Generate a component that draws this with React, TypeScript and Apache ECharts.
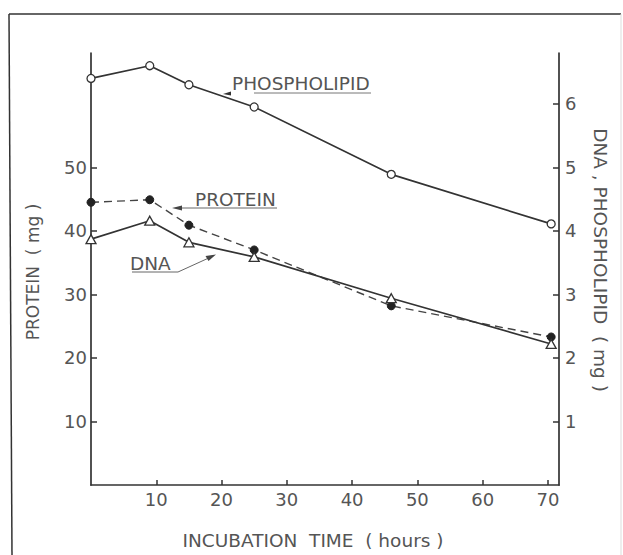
import React, { useEffect, useRef } from "react";
import * as echarts from "echarts";

const hours = [0, 9, 15, 25, 46, 70.5];
const phospholipid = [6.4, 6.6, 6.3, 5.95, 4.89, 4.11];
const protein = [44.5, 44.9, 40.9, 37.0, 28.2, 23.3];
const dna = [3.87, 4.16, 3.82, 3.59, 2.94, 2.22];

const xTicks = [10, 20, 30, 40, 50, 60, 70];
const leftTicks = [10, 20, 30, 40, 50];
const rightTicks = [1, 2, 3, 4, 5, 6];

const FONT = "DejaVu Sans";
const INK = "#333";
const TXT = "#555";

export default function App() {
  const ref = useRef<HTMLDivElement>(null);
  useEffect(() => {
    if (!ref.current) return;
    const chart = echarts.init(ref.current, null, { renderer: "svg" });
    const axisLine = { show: true, onZero: false, lineStyle: { color: INK, width: 1.7 } };
    const labelStyle = { color: TXT, fontFamily: FONT, fontSize: 18 };
    const txt = (s: string, x: number, y: number, size: number, align = "left", rotation = 0) => ({
      type: "text", x, y, rotation,
      style: { text: s, fill: TXT, font: `${size}px "${FONT}"`, textAlign: align, textVerticalAlign: "middle" },
    });
    chart.setOption({
      animation: false,
      backgroundColor: "#fff",
      grid: { left: 91, right: 64, top: 53, bottom: 70, containLabel: false },
      xAxis: {
        type: "value",
        min: 0,
        max: 71.7,
        interval: 10,
        axisLine,
        axisTick: { show: true, inside: true, length: 5, customValues: xTicks, lineStyle: { color: INK, width: 1.5 } },
        axisLabel: { ...labelStyle, margin: 5, customValues: xTicks },
        splitLine: { show: false },
      },
      yAxis: [
        {
          type: "value",
          position: "left",
          min: 0,
          max: 68,
          interval: 10,
          axisLine,
          axisTick: { show: true, inside: true, length: 6, customValues: leftTicks, lineStyle: { color: INK, width: 1.5 } },
          axisLabel: { ...labelStyle, margin: 4, customValues: leftTicks },
          splitLine: { show: false },
        },
        {
          type: "value",
          position: "right",
          min: 0,
          max: 6.8,
          interval: 1,
          axisLine,
          axisTick: { show: true, inside: true, length: 6, customValues: rightTicks, lineStyle: { color: INK, width: 1.5 } },
          axisLabel: { ...labelStyle, margin: 6, customValues: rightTicks },
          splitLine: { show: false },
        },
      ],
      series: [
        {
          name: "PHOSPHOLIPID",
          type: "line",
          yAxisIndex: 1,
          data: hours.map((h, i) => [h, phospholipid[i]]),
          symbol: "circle",
          symbolSize: 8,
          itemStyle: { color: "#fff", borderColor: INK, borderWidth: 1.3 },
          lineStyle: { color: INK, width: 1.7 },
          z: 3,
        },
        {
          name: "PROTEIN",
          type: "line",
          yAxisIndex: 0,
          data: hours.map((h, i) => [h, protein[i]]),
          symbol: "circle",
          symbolSize: 8,
          itemStyle: { color: "#222", borderColor: "#222", borderWidth: 1 },
          lineStyle: { color: "#444", width: 1.4, type: [8, 5] },
          z: 3,
        },
        {
          name: "DNA",
          type: "line",
          yAxisIndex: 1,
          data: hours.map((h, i) => [h, dna[i]]),
          symbol: "triangle",
          symbolSize: [10, 9],
          itemStyle: { color: "#fff", borderColor: INK, borderWidth: 1.3 },
          lineStyle: { color: INK, width: 1.7 },
          z: 4,
        },
      ],
      graphic: [
        { type: "line", shape: { x1: 9, y1: 14, x2: 621, y2: 14 }, style: { stroke: INK, lineWidth: 1.5 } },
        { type: "line", shape: { x1: 9, y1: 14, x2: 12, y2: 555 }, style: { stroke: INK, lineWidth: 1.5 } },
        { type: "line", shape: { x1: 621, y1: 14, x2: 621, y2: 555 }, style: { stroke: "#ddd", lineWidth: 1 } },
        txt("PROTEIN  ( mg )", 33, 272, 17, "center", Math.PI / 2),
        txt("DNA , PHOSPHOLIPID  ( mg )", 600, 260, 18.5, "center", -Math.PI / 2),
        txt("INCUBATION  TIME  ( hours )", 313, 540, 18.5, "center"),
        txt("PHOSPHOLIPID", 232, 83, 18.5),
        { type: "line", shape: { x1: 254, y1: 93, x2: 371, y2: 93 }, style: { stroke: "#777", lineWidth: 1 } },
        { type: "polygon", shape: { points: [[223, 94], [231, 91.5], [231, 95.5]] }, style: { fill: INK } },
        txt("PROTEIN", 195, 199, 18.5),
        { type: "line", shape: { x1: 176, y1: 208, x2: 277, y2: 208 }, style: { stroke: "#666", lineWidth: 1 } },
        { type: "polygon", shape: { points: [[172, 208], [182, 205.5], [182, 210.5]] }, style: { fill: "#444" } },
        txt("DNA", 130, 263, 18.5),
        { type: "polyline", shape: { points: [[132, 272], [178, 272], [212, 256.5]] }, style: { stroke: "#666", lineWidth: 1, fill: "none" } },
        { type: "polygon", shape: { points: [[216, 254.5], [205.5, 256], [208.5, 261]] }, style: { fill: "#444" } },
      ],
    });
    return () => chart.dispose();
  }, []);
  return (
    <div
      ref={ref}
      style={{ position: "fixed", left: 0, top: 0, width: 623, height: 555, background: "#fff" }}
    />
  );
}
